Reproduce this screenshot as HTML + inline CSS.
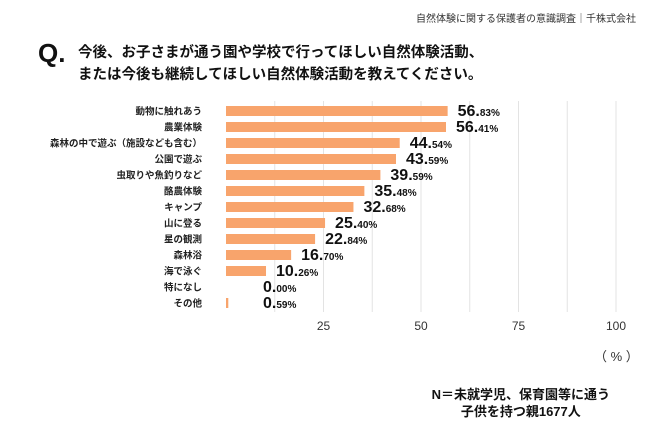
<!DOCTYPE html>
<html><head><meta charset="utf-8"><style>
body{margin:0;width:650px;height:427px;background:#fff;font-family:"Liberation Sans","Noto Sans CJK JP",sans-serif;overflow:hidden;position:relative;color:#111}
.abs{position:absolute;white-space:nowrap}
</style></head><body>
<div class="abs" style="right:14px;top:10px;font-size:10px;color:#333">自然体験に関する保護者の意識調査｜千株式会社</div>
<div class="abs" style="left:38px;top:38px;font-size:26px;font-weight:bold">Q.</div>
<div class="abs" style="left:78px;top:42px;font-size:14.5px;font-weight:bold;line-height:22px">今後、お子さまが通う園や学校で行ってほしい自然体験活動、<br>または今後も継続してほしい自然体験活動を教えてください。</div>
<svg id="chart" class="abs" style="left:0;top:0" width="650" height="427"></svg>
<div class="abs" style="left:594px;top:346px;font-size:13px;color:#333">（ % ）</div>
<div class="abs" style="right:40px;top:386px;font-size:13px;font-weight:bold;text-align:center;line-height:17px">N＝未就学児、保育園等に通う<br>子供を持つ親1677人</div>
<script>
const categories=["動物に触れあう","農業体験","森林の中で遊ぶ（施設なども含む）","公園で遊ぶ","虫取りや魚釣りなど","酪農体験","キャンプ","山に登る","星の観測","森林浴","海で泳ぐ","特になし","その他"];
const values=[56.83,56.41,44.54,43.59,39.59,35.48,32.68,25.40,22.84,16.70,10.26,0.00,0.59];
const tickLabels=[25,50,75,100];
const svg=document.getElementById('chart');
const NS='http://www.w3.org/2000/svg';
const x=v=>226+v*3.9;
const y=i=>111+i*16;
function mk(t,a){const e=document.createElementNS(NS,t);for(const k in a)e.setAttribute(k,a[k]);svg.appendChild(e);return e;}
for(let g=12.5;g<=100;g+=12.5){
  const l=mk('line',{x1:x(g),x2:x(g),y1:101,y2:312,stroke:'#e3e3e3','stroke-width':1});
  
  
}
tickLabels.forEach(t=>{
  const e=mk('text',{x:x(t),y:330,'text-anchor':'middle','font-size':12,fill:'#333'});
  e.textContent=t;
  
  
});
categories.forEach((c,i)=>{
  const t=mk('text',{x:202,y:y(i)+3.5,'text-anchor':'end','font-size':9.5,'font-weight':'bold',fill:'#222'});
  t.textContent=c;
  
  
  const v=values[i];
  const r=mk('rect',{x:x(0),y:y(i)-5,width:Math.max(0,x(v)-x(0)),height:10,fill:'#f8a46c'});
  
  
  const parts=v.toFixed(2).split('.');
  const lx=Math.max(x(v)+10,263);
  const vt=mk('text',{x:lx,y:y(i)+5,'font-weight':'bold',fill:'#111'});
  
  
  const s1=document.createElementNS(NS,'tspan');s1.setAttribute('font-size',16);s1.textContent=parts[0]+'.';vt.appendChild(s1);
  const s2=document.createElementNS(NS,'tspan');s2.setAttribute('font-size',10);s2.textContent=parts[1]+'%';vt.appendChild(s2);
});
</script>
</body></html>
